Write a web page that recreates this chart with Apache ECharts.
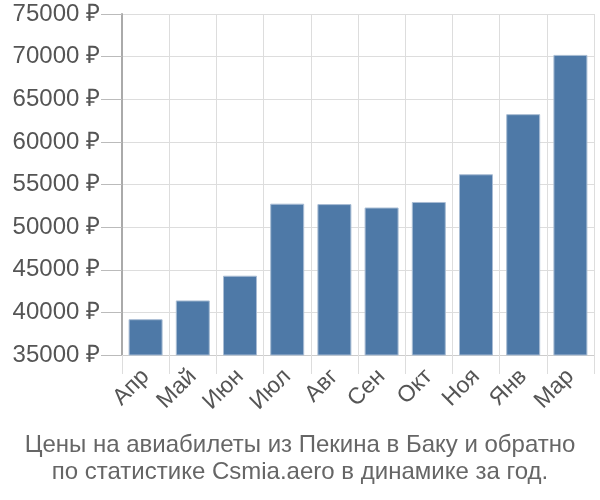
<!DOCTYPE html>
<html><head><meta charset="utf-8">
<script src="https://cdn.jsdelivr.net/npm/echarts@6/dist/echarts.min.js"></script>
<style>html,body{margin:0;padding:0;background:#fff}#c{width:600px;height:500px}</style>
</head><body><div id="c"></div>
<script>
const categories = ['Апр','Май','Июн','Июл','Авг','Сен','Окт','Ноя','Янв','Мар'];
const prices = [39200, 41400, 44300, 52750, 52700, 52300, 52950, 56200, 63250, 70200];
const yMin = 35000, yMax = 75000, yStep = 5000;
const titleLines = ['Цены на авиабилеты из Пекина в Баку и обратно','по статистике Csmia.aero в динамике за год.'];

const chart = echarts.init(document.getElementById('c'), null, {renderer:'canvas'});
chart.setOption({
  animation:false,
  title:{text:titleLines.join('\n'), left:'center', top:427,
    textStyle:{fontFamily:'Liberation Sans', fontSize:24, fontWeight:'normal', color:'#666', lineHeight:27}},
  grid:{left:122, right:6, top:14, bottom:145},
  xAxis:{type:'category', data:categories, boundaryGap:true,
    axisLine:{show:true, lineStyle:{color:'#ccc'}},
    axisTick:{show:true, length:19, lineStyle:{color:'#ddd'}},
    splitLine:{show:true, lineStyle:{color:'#ddd', width:1}},
    axisLabel:{rotate:45, fontFamily:'Liberation Sans', fontSize:23, color:'#555', margin:18, interval:0}},
  yAxis:{type:'value', min:yMin, max:yMax, interval:yStep,
    axisLine:{show:true, lineStyle:{color:'#aaa', width:2}},
    axisTick:{show:true, length:21, lineStyle:{color:'#bbb'}},
    splitLine:{show:true, lineStyle:{color:'#ddd', width:1}},
    axisLabel:{formatter:v=>v+' ₽', fontFamily:'Liberation Sans', fontSize:24, color:'#555', margin:22}},
  series:[{type:'bar', data:prices, barWidth:'72%',
    itemStyle:{color:'#4e79a7', borderColor:'#a9bdd4', borderWidth:1}}]
});
</script></body></html>
